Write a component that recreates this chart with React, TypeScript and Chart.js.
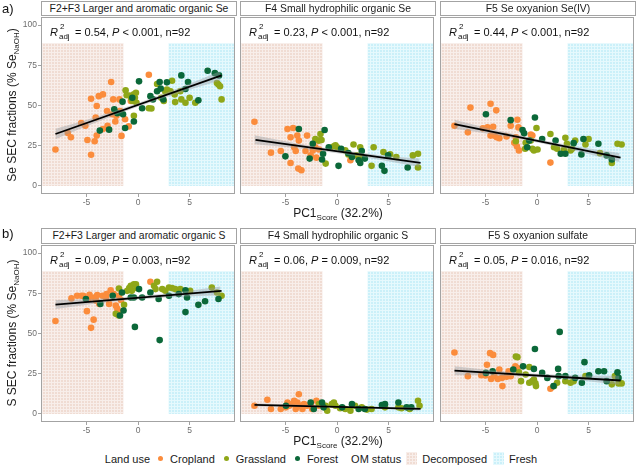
import React, { useEffect, useRef } from "react";
import { Chart, registerables } from "chart.js";

Chart.register(...registerables);

type Pt = [number, number];

const FONT = "'Liberation Sans', Arial, Helvetica, sans-serif";

// ---------- scales / ticks ----------
const X_RANGE = [-9.4, 9.4];
const Y_RANGE = [-5, 105];
const X_TICKS = [-5, 0, 5];
const Y_TICKS = [0, 25, 50, 75, 100];
const BAND_X = [-8, -4, 0, 4, 8];

// OM status shaded zones (x limits in PC1 units, y top in %)
const OM_DECOMPOSED_END = -1.4;
const OM_FRESH_START = 2.95;
const OM_BOX_TOP = 88.8;

// ---------- labels ----------
const PANEL_TITLES = [
  "F2+F3 Larger and aromatic organic Se",
  "F4 Small hydrophilic organic Se",
  "F5 Se oxyanion Se(IV)",
  "F2+F3 Larger and aromatic organic S",
  "F4 Small hydrophilic organic S",
  "F5 S oxyanion sulfate",
];
const R2_ADJ = ["0.54", "0.23", "0.44", "0.09", "0.06", "0.05"];
const P_TEXT = ["< 0.001", "< 0.001", "< 0.001", "= 0.003", "= 0.009", "= 0.016"];
const N_TEXT = "n=92";
const ROW_LETTERS = ["a)", "b)"];
const ROW_Y_TITLES = ["Se SEC fractions (% Se", "S SEC fractions (% Se"];
const LAND_USE = ["Cropland", "Grassland", "Forest"];
const LAND_COLORS = ["#fb8c3c", "#8fa718", "#0b6839"];
const OM_STATUS = ["Decomposed", "Fresh"];
const OM_COLORS = [
  ["#f0dcd3", "#f8eeea"],
  ["#cbf0f9", "#e6f9fd"],
];

// ---------- data: Se F2+F3 ----------
const seF23Crop: Pt[] = [[-8.0,22.7],[-6.8,32.9],[-6.5,30.3],[-5.5,39.1],[-5.1,37.4],[-4.9,28.6],[-4.55,54.2],[-4.55,19.4],[-4.2,27.8],[-4.1,42.5],[-4.0,49.7],[-4.0,31.3],[-3.8,55.8],[-3.4,56.9],[-3.4,35.4],[-2.95,37.4],[-3.0,46.6],[-2.6,64.6],[-2.4,53.8],[-2.5,44.6],[-2.2,40.1],[-2.1,43.6],[-1.8,53.8],[-1.6,31.1],[-1.75,46.6],[-0.9,37.0],[-0.7,52.8],[1.05,69.1],[-1.25,41.5]];
const seF23Grass: Pt[] = [[-1.2,59.5],[-0.8,56.2],[-0.65,54.4],[-0.55,52.8],[-0.4,56.9],[-0.2,57.9],[-0.3,54.8],[-0.15,51.7],[-0.4,43.6],[1.05,48.3],[1.3,48.1],[1.85,63.4],[2.25,54.8],[2.5,52.8],[2.65,58.5],[2.8,59.9],[3.15,58.9],[3.3,65.4],[3.55,56.9],[3.6,52.1],[4.1,58.9],[4.2,53.8],[4.6,51.7],[5.0,54.8],[5.55,51.7],[7.65,64.0],[7.8,63.0],[7.95,62.0],[8.1,53.8],[-1.1,56.4]];
const seF23Forest: Pt[] = [[-3.7,34.4],[-2.8,35.0],[-2.3,47.6],[-2.0,45.2],[-1.5,52.4],[-1.45,44.6],[-1.25,36.0],[-0.55,54.8],[-0.4,40.1],[0.1,65.0],[0.4,48.3],[1.2,55.8],[1.85,58.9],[2.1,64.6],[2.2,60.5],[2.45,53.8],[2.8,64.4],[4.2,68.7],[4.6,60.3],[4.85,64.6],[5.85,53.2],[6.75,71.6],[7.45,70.1],[7.85,68.7],[1.45,53.8]];
const seF23Line: Pt[] = [[-8.0,32.3],[8.1,68.7]];
const seF23Upper = [35.5, 43.0, 51.6, 61.0, 71.5];
const seF23Lower = [29.1, 39.6, 49.2, 57.8, 65.5];

// ---------- data: Se F4 ----------
const seF4Crop: Pt[] = [[-8.0,39.9],[-6.4,20.7],[-5.45,21.7],[-4.8,35.4],[-4.5,30.3],[-4.5,14.3],[-4.25,36.0],[-4.0,21.7],[-3.85,31.3],[-3.75,10.8],[-3.45,9.8],[-3.7,28.2],[-2.9,31.3],[-2.55,19.0],[-2.35,22.1],[-2.1,24.1],[-1.75,22.7],[-2.0,17.6],[-1.9,28.2],[1.3,16.0],[-4.15,24.1],[-3.05,21.7]];
const seF4Grass: Pt[] = [[-2.1,29.2],[-1.75,28.2],[-1.1,13.9],[-1.6,32.3],[-0.65,23.7],[-0.3,24.7],[-0.15,25.2],[0,24.1],[0.8,22.1],[1.6,25.8],[1.9,19.0],[2.25,24.1],[2.4,18.0],[3.55,24.1],[3.35,12.5],[4.5,21.1],[5.75,18.0],[7.35,19.0],[7.85,20.0],[7.85,11.5],[-1.5,28.6],[1.1,19.6],[5.15,19.6]];
const seF4Forest: Pt[] = [[-3.7,35.4],[-5.0,18.4],[-2.65,17.0],[-2.35,26.2],[-1.2,34.8],[-1.35,20.0],[-0.8,24.1],[0.15,12.5],[0.4,23.1],[1.1,20.4],[2.1,16.0],[2.4,21.7],[2.7,17.0],[4.35,12.5],[4.6,9.4],[4.95,19.0],[6.85,11.5],[-1.45,16.4],[2.25,14.3],[1.45,18.0]];
const seF4Line: Pt[] = [[-7.9,28.6],[8.1,14.3]];
const seF4Upper = [31.5, 26.6, 22.6, 19.3, 17.0];
const seF4Lower = [25.9, 23.6, 20.4, 16.5, 11.8];

// ---------- data: Se F5 ----------
const seF5Crop: Pt[] = [[-8.0,37.4],[-6.7,33.3],[-6.45,48.7],[-5.25,35.8],[-4.8,36.4],[-4.5,51.1],[-4.5,31.3],[-4.15,31.3],[-3.95,47.0],[-3.9,30.3],[-4.25,36.8],[-3.65,29.7],[-2.95,30.7],[-2.55,37.4],[-2.2,26.8],[-2.05,30.3],[-1.9,41.1],[-1.8,36.4],[-1.95,24.7],[-1.75,22.1],[-0.6,31.9],[-0.45,31.3],[1.3,14.5]];
const seF5Grass: Pt[] = [[-2.05,27.8],[-1.1,26.8],[-0.6,28.2],[-0.45,23.1],[-0.3,22.1],[-0.05,36.0],[0.05,22.7],[1.3,32.3],[1.65,24.1],[1.95,23.1],[2.6,22.5],[2.75,29.9],[2.9,26.2],[3.25,22.1],[3.4,23.1],[3.7,28.2],[4.7,25.8],[5.0,29.2],[6.1,20.4],[7.25,14.3],[7.8,26.2],[8.2,25.8],[-1.15,23.1]];
const seF5Forest: Pt[] = [[-4.95,44.6],[-2.55,40.9],[-1.4,34.8],[-1.25,32.7],[-0.2,42.5],[0.5,29.2],[1.8,28.2],[2.3,20.0],[2.75,20.0],[3.55,26.6],[4.3,19.6],[4.5,29.2],[5.95,26.2],[6.75,19.0],[7.25,16.4],[-0.75,28.2],[-0.95,24.1]];
const seF5Line: Pt[] = [[-8.0,38.4],[8.1,17.6]];
const seF5Upper = [41.2, 34.7, 29.2, 24.4, 20.5];
const seF5Lower = [35.6, 31.7, 27.0, 21.4, 14.9];

// ---------- data: S F2+F3 ----------
const sF23Crop: Pt[] = [[-8.0,57.8],[-6.45,71.8],[-5.9,73.5],[-5.5,73.5],[-5.3,73.5],[-4.95,63.9],[-4.8,71.4],[-4.55,53.5],[-4.3,58.6],[-4.25,72.4],[-4.05,70.4],[-3.95,73.9],[-3.75,68.4],[-3.45,73.5],[-3.05,74.5],[-2.8,68.4],[-2.65,76.9],[-2.35,74.5],[-2.15,67.3],[-2.0,65.3],[-1.9,63.7],[-1.85,73.5],[-1.65,70.8],[1.2,82.2],[-3.1,72.4],[-4.7,74.1]];
const sF23Grass: Pt[] = [[-1.85,78.0],[-1.05,76.5],[-0.7,79.6],[-0.4,80.6],[-0.2,80.6],[-0.15,78.2],[-0.6,76.5],[-2.15,62.2],[-1.35,67.8],[1.55,79.6],[1.7,77.6],[1.85,82.2],[2.35,77.6],[2.65,76.5],[3.0,78.6],[3.3,78.2],[3.6,77.6],[4.1,77.6],[5.05,76.5],[7.15,78.6],[7.65,75.5],[8.1,73.5],[-1.85,61.2],[-0.85,78.2]];
const sF23Forest: Pt[] = [[-5.05,71.4],[-3.65,68.4],[-2.45,73.5],[-1.55,75.5],[-1.4,64.3],[-1.75,61.2],[-0.7,72.4],[-0.4,72.4],[-0.3,54.1],[0.1,77.6],[0.4,72.4],[1.2,75.5],[2.0,71.4],[2.1,45.9],[3.0,73.5],[4.6,63.3],[4.75,72.4],[4.6,76.9],[5.85,67.8],[6.5,70.0],[7.8,71.4],[3.95,74.5]];
const sF23Line: Pt[] = [[-8.0,68.0],[8.1,76.5]];
const sF23Upper = [70.8, 71.6, 73.3, 75.8, 79.2];
const sF23Lower = [65.2, 68.6, 71.1, 72.8, 73.6];

// ---------- data: S F4 ----------
const sF4Crop: Pt[] = [[-8.0,5.1],[-6.75,8.8],[-6.4,3.1],[-5.45,3.1],[-4.8,7.1],[-4.65,5.1],[-4.35,6.1],[-3.85,7.1],[-3.7,12.2],[-3.55,5.1],[-3.2,6.1],[-2.9,5.1],[-2.55,6.1],[-2.0,8.2],[-1.75,5.1],[-4.0,3.1],[-4.95,4.1],[-4.15,8.2],[-3.35,3.1],[-2.4,3.1]];
const sF4Grass: Pt[] = [[-1.75,6.1],[-1.1,5.1],[-0.5,6.1],[-0.15,5.1],[0.8,3.1],[1.3,2.0],[1.75,5.1],[2.4,4.1],[3.35,3.1],[4.65,4.1],[5.95,4.1],[7.05,3.1],[7.85,8.2],[8.0,5.1],[-0.3,7.1],[-0.95,2.0],[6.25,3.5],[0.3,3.5],[2.9,2.7]];
const sF4Forest: Pt[] = [[-4.95,5.1],[-2.55,7.1],[-2.25,3.1],[-1.45,7.1],[-1.3,4.1],[0.5,4.1],[1.45,6.1],[2.7,3.1],[4.35,5.5],[4.65,6.1],[5.95,7.1],[6.75,4.1],[7.2,4.1],[2.1,3.1]];
const sF4Line: Pt[] = [[-8.0,5.7],[8.1,3.1]];
const sF4Upper = [6.7, 5.8, 5.0, 4.5, 4.1];
const sF4Lower = [4.7, 4.3, 3.8, 3.1, 2.1];

// ---------- data: S F5 ----------
const sF5Crop: Pt[] = [[-8.0,38.2],[-6.7,23.5],[-5.4,24.1],[-4.85,30.6],[-4.55,37.8],[-4.25,36.7],[-4.45,21.8],[-4.15,23.5],[-3.65,27.6],[-3.4,22.4],[-2.95,23.1],[-2.55,23.5],[-2.1,29.6],[-1.9,28.6],[1.3,15.7],[-3.8,21.8],[-3.35,17.3],[-5.0,23.9],[-2.75,26.5]];
const sF5Grass: Pt[] = [[-2.05,35.7],[-1.75,25.9],[-1.55,20.4],[-1.1,24.5],[-0.75,19.4],[-0.45,20.4],[-0.3,21.4],[-0.15,19.0],[-0.1,17.3],[1.65,17.3],[1.95,19.4],[2.75,20.4],[3.25,19.4],[3.55,20.4],[4.7,23.5],[7.25,18.4],[7.55,23.5],[7.9,19.0],[8.2,19.0],[-0.75,29.2],[-1.9,35.3]];
const sF5Forest: Pt[] = [[-4.95,25.5],[-4.3,26.5],[-2.3,27.6],[-1.35,29.6],[-0.3,28.0],[-0.2,40.4],[0.5,25.5],[1.0,22.4],[1.6,17.3],[2.05,28.0],[2.2,51.0],[2.1,23.5],[2.75,23.5],[3.7,22.4],[4.35,19.4],[4.6,32.2],[5.05,24.1],[5.95,26.5],[6.5,26.5],[6.75,20.4],[7.8,25.9],[7.9,22.4]];
const sF5Line: Pt[] = [[-8.0,26.9],[8.1,20.8]];
const sF5Upper = [29.7, 26.9, 25.0, 23.9, 23.7];
const sF5Lower = [24.1, 23.9, 22.8, 20.9, 18.1];

type PanelData = { groups: Pt[][]; line: Pt[]; upper: number[]; lower: number[] };
const PANELS: PanelData[] = [
  { groups: [seF23Crop, seF23Grass, seF23Forest], line: seF23Line, upper: seF23Upper, lower: seF23Lower },
  { groups: [seF4Crop, seF4Grass, seF4Forest], line: seF4Line, upper: seF4Upper, lower: seF4Lower },
  { groups: [seF5Crop, seF5Grass, seF5Forest], line: seF5Line, upper: seF5Upper, lower: seF5Lower },
  { groups: [sF23Crop, sF23Grass, sF23Forest], line: sF23Line, upper: sF23Upper, lower: sF23Lower },
  { groups: [sF4Crop, sF4Grass, sF4Forest], line: sF4Line, upper: sF4Upper, lower: sF4Lower },
  { groups: [sF5Crop, sF5Grass, sF5Forest], line: sF5Line, upper: sF5Upper, lower: sF5Lower },
];

// ---------- layout ----------
const COL_LEFT = [41, 240, 440];
const ROW_TOP = [15, 243];
const AREA_W = 196;
const AREA_H = 179;
const Y_AXIS_W = 38;
const X_AXIS_H = 18;
const PAD = 2;
const BORDER = "#a3a3a3";

function makePattern(ctx: CanvasRenderingContext2D, base: string, line: string) {
  const c = document.createElement("canvas");
  c.width = 3;
  c.height = 3;
  const g = c.getContext("2d")!;
  g.fillStyle = base;
  g.fillRect(0, 0, 3, 3);
  g.fillStyle = line;
  g.fillRect(0, 0, 3, 1);
  g.fillRect(0, 0, 1, 3);
  return ctx.createPattern(c, "repeat") || base;
}

const omPlugin = {
  id: "omZones",
  beforeDatasetsDraw(chart: any) {
    const { ctx, chartArea: a, scales } = chart;
    const x = scales.x, y = scales.y;
    const top = y.getPixelForValue(OM_BOX_TOP);
    const bot = y.getPixelForValue(0);
    ctx.save();
    ctx.fillStyle = makePattern(ctx, OM_COLORS[0][0], OM_COLORS[0][1]);
    const xd = x.getPixelForValue(OM_DECOMPOSED_END);
    ctx.fillRect(a.left, top, xd - a.left, bot - top);
    ctx.fillStyle = makePattern(ctx, OM_COLORS[1][0], OM_COLORS[1][1]);
    const xf = x.getPixelForValue(OM_FRESH_START);
    ctx.fillRect(xf, top, a.right - xf, bot - top);
    ctx.restore();
  },
  afterDraw(chart: any) {
    const { ctx, chartArea: a } = chart;
    ctx.save();
    ctx.strokeStyle = BORDER;
    ctx.lineWidth = 1;
    ctx.strokeRect(a.left + 0.5, a.top + 0.5, a.right - a.left - 1, a.bottom - a.top - 1);
    ctx.restore();
  },
};

function zeroPad(s: any) {
  s.paddingLeft = 0;
  s.paddingRight = 0;
  s.paddingTop = 0;
  s.paddingBottom = 0;
}

function Panel({ idx }: { idx: number }) {
  const ref = useRef<HTMLCanvasElement>(null);
  const col = idx % 3;
  const row = Math.floor(idx / 3);
  const w = Y_AXIS_W + AREA_W + PAD;
  const h = PAD + AREA_H + X_AXIS_H;
  useEffect(() => {
    const p = PANELS[idx];
    const showY = col === 0;
    const chart = new Chart(ref.current!, {
      type: "scatter",
      data: {
        datasets: [
          {
            data: p.line.map(([x, y]) => ({ x, y })),
            showLine: true,
            borderColor: "#000",
            borderWidth: 1.8,
            pointRadius: 0,
            order: 0,
          } as any,
          {
            data: BAND_X.map((x, i) => ({ x, y: p.upper[i] })),
            showLine: true,
            borderWidth: 0,
            borderColor: "rgba(0,0,0,0)",
            pointRadius: 0,
            fill: "+1",
            backgroundColor: "rgba(150,155,160,0.42)",
            cubicInterpolationMode: "monotone",
            order: 1,
          },
          {
            data: BAND_X.map((x, i) => ({ x, y: p.lower[i] })),
            showLine: true,
            borderWidth: 0,
            borderColor: "rgba(0,0,0,0)",
            pointRadius: 0,
            fill: false,
            cubicInterpolationMode: "monotone",
            order: 2,
          },
          ...p.groups.map((g, gi) => ({
            label: LAND_USE[gi],
            data: g.map(([x, y]) => ({ x, y })),
            backgroundColor: LAND_COLORS[gi],
            borderWidth: 0,
            pointRadius: 3.3,
            order: 3 + (2 - gi),
          })),
        ],
      },
      options: {
        responsive: false,
        maintainAspectRatio: false,
        animation: false,
        events: [],
        layout: { padding: { top: PAD, right: PAD, left: 0, bottom: 0 } },
        plugins: { legend: { display: false }, tooltip: { enabled: false } },
        scales: {
          x: {
            type: "linear",
            min: X_RANGE[0],
            max: X_RANGE[1],
            afterBuildTicks: (s: any) => {
              s.ticks = X_TICKS.map((v) => ({ value: v }));
            },
            afterFit: (s: any) => {
              s.height = X_AXIS_H;
              zeroPad(s);
            },
            grid: { display: true, drawOnChartArea: false, drawTicks: true, tickLength: 3, color: "#8a8a8a", lineWidth: 0.8 },
            border: { display: false },
            ticks: {
              font: { family: FONT, size: 8.5 },
              color: "#6e6e6e",
              padding: 1,
              maxRotation: 0,
              autoSkip: false,
              callback: (v: any) => String(v),
            },
          },
          y: {
            type: "linear",
            min: Y_RANGE[0],
            max: Y_RANGE[1],
            afterBuildTicks: (s: any) => {
              s.ticks = Y_TICKS.map((v) => ({ value: v }));
            },
            afterFit: (s: any) => {
              s.width = Y_AXIS_W;
              zeroPad(s);
            },
            grid: { display: showY, drawOnChartArea: false, drawTicks: showY, tickLength: 3, color: "#8a8a8a", lineWidth: 0.8 },
            border: { display: false },
            ticks: {
              display: showY,
              font: { family: FONT, size: 8.5 },
              color: "#6e6e6e",
              padding: 1,
              autoSkip: false,
              callback: (v: any) => String(v),
            },
          },
        },
      },
      plugins: [omPlugin],
    } as any);
    return () => chart.destroy();
  }, [idx]);
  return (
    <canvas
      ref={ref}
      width={w}
      height={h}
      style={{ position: "absolute", left: COL_LEFT[col] - Y_AXIS_W, top: ROW_TOP[row] - PAD, width: w, height: h }}
    />
  );
}

function StatLabel({ idx }: { idx: number }) {
  const col = idx % 3;
  const row = Math.floor(idx / 3);
  return (
    <div
      style={{
        position: "absolute",
        left: COL_LEFT[col] + 9,
        top: ROW_TOP[row] + 11,
        font: `11px ${FONT}`,
        color: "#111",
        whiteSpace: "nowrap",
        lineHeight: "12px",
      }}
    >
      <i>R</i>
      <span style={{ display: "inline-block", position: "relative", width: 14, height: 12, verticalAlign: "top" }}>
        <span style={{ position: "absolute", left: 2, top: -5, fontSize: 8 }}>2</span>
        <span style={{ position: "absolute", left: 1, top: 5, fontSize: 8 }}>adj</span>
      </span>
      {" = " + R2_ADJ[idx] + ", "}
      <i>P</i>
      {" " + P_TEXT[idx] + ", " + N_TEXT}
    </div>
  );
}

function Strip({ idx }: { idx: number }) {
  const col = idx % 3;
  const row = Math.floor(idx / 3);
  const top = row === 0 ? 1 : 228;
  const height = row === 0 ? 15 : 16;
  return (
    <div
      style={{
        position: "absolute",
        left: COL_LEFT[col],
        top,
        width: AREA_W,
        height,
        boxSizing: "border-box",
        border: `1px solid ${BORDER}`,
        background: "#fff",
        font: `10.4px ${FONT}`,
        color: "#1a1a1a",
        textAlign: "center",
        lineHeight: `${height - 2}px`,
        whiteSpace: "nowrap",
      }}
    >
      {PANEL_TITLES[idx]}
    </div>
  );
}

export default function App() {
  const idxs = [0, 1, 2, 3, 4, 5];
  const midX = COL_LEFT[1] + AREA_W / 2;
  return (
    <div
      style={{
        position: "fixed",
        left: 0,
        top: 0,
        width: 640,
        height: 470,
        background: "#fff",
        overflow: "hidden",
        fontFamily: FONT,
      }}
    >
      {idxs.map((i) => (
        <Panel key={"p" + i} idx={i} />
      ))}
      {idxs.map((i) => (
        <Strip key={"s" + i} idx={i} />
      ))}
      {idxs.map((i) => (
        <StatLabel key={"t" + i} idx={i} />
      ))}
      {[0, 1].map((r) => (
        <React.Fragment key={"r" + r}>
          <div style={{ position: "absolute", left: 2, top: r === 0 ? 1 : 226, font: `13px ${FONT}`, color: "#111" }}>
            {ROW_LETTERS[r]}
          </div>
          <div
            style={{
              position: "absolute",
              left: 13,
              top: ROW_TOP[r] + AREA_H / 2,
              transform: "translate(-50%, -50%) rotate(-90deg)",
              font: `12px ${FONT}`,
              color: "#1a1a1a",
              whiteSpace: "nowrap",
            }}
          >
            {ROW_Y_TITLES[r]}
            <sub style={{ fontSize: 8 }}>NaOH</sub>)
          </div>
          <div
            style={{
              position: "absolute",
              left: midX,
              top: ROW_TOP[r] + AREA_H + 20,
              transform: "translate(-50%, -50%)",
              font: `12px ${FONT}`,
              color: "#1a1a1a",
              whiteSpace: "nowrap",
            }}
          >
            PC1<sub style={{ fontSize: 8 }}>Score</sub> (32.2%)
          </div>
        </React.Fragment>
      ))}
      <div
        style={{
          position: "absolute",
          left: 0,
          width: 640,
          top: 452,
          display: "flex",
          justifyContent: "center",
          alignItems: "center",
          font: `11px ${FONT}`,
          color: "#1a1a1a",
          whiteSpace: "nowrap",
          paddingLeft: 4,
        }}
      >
        <span style={{ marginRight: 7 }}>Land use</span>
        {LAND_USE.map((l, i) => (
          <span key={l} style={{ display: "flex", alignItems: "center", marginRight: 8 }}>
            <span style={{ width: 5, height: 5, borderRadius: 3, background: LAND_COLORS[i], marginRight: 7, marginLeft: 1 }} />
            {l}
          </span>
        ))}
        <span style={{ marginLeft: 5, marginRight: 5 }}>OM status</span>
        {OM_STATUS.map((l, i) => (
          <span key={l} style={{ display: "flex", alignItems: "center", marginRight: 6 }}>
            <span
              style={{
                width: 11,
                height: 13,
                background: `repeating-linear-gradient(0deg, ${OM_COLORS[i][1]} 0 1px, transparent 1px 3px), repeating-linear-gradient(90deg, ${OM_COLORS[i][1]} 0 1px, ${OM_COLORS[i][0]} 1px 3px)`,
                marginRight: 5,
              }}
            />
            {l}
          </span>
        ))}
      </div>
    </div>
  );
}
